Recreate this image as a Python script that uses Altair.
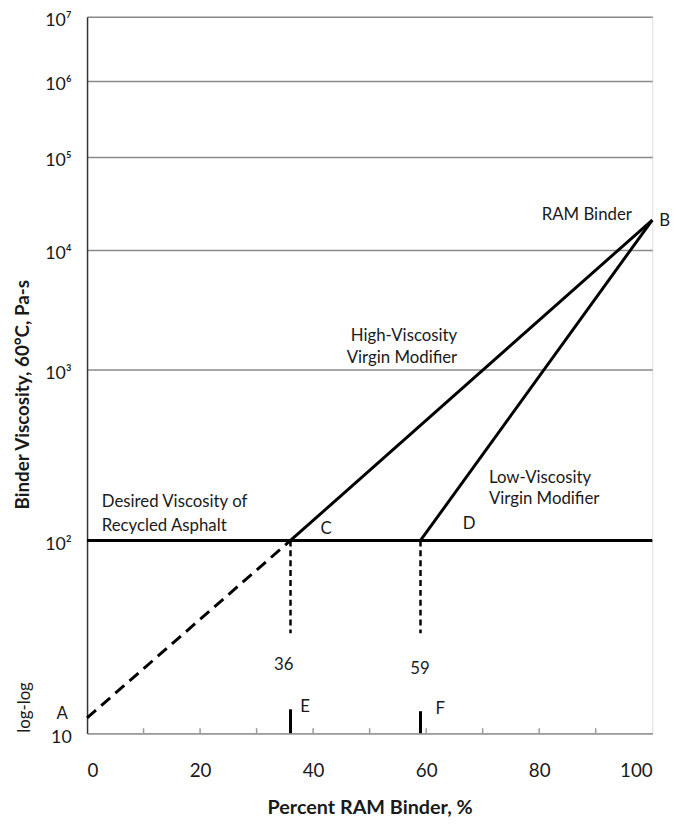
import altair as alt
import pandas as pd

FONT = "Lato"
INK = "#1a1a1a"

# ---- axis ticks / labels ----
x_label_values = [0, 20, 40, 60, 80, 100]
x_minor_ticks = [10, 20, 30, 40, 50, 60, 70, 80, 90]
y_tick_values = [10, 100, 1000, 10000, 100000, 1000000, 10000000]
y_tick_labels = ["10", "10²", "10³", "10⁴", "10⁵", "10⁶", "10⁷"]
# pixel positions of the decades on the (hand-drawn) log-log axis
y_decade_pixels = [725, 530, 357, 236, 142, 65, 0]

# ---- key points ----
pt_name = ["A", "C", "D", "B"]
pt_pct = [0, 36, 59, 100]
pt_visc = [12, 100, 100, 21000]

desired_visc = 100
blend_pct = [36, 59]
blend_drop_visc = [33, 33]
blend_mark_top = [13.3, 13.0]

pts = dict(zip(pt_name, zip(pt_pct, pt_visc)))

def seg(a, b, name):
    return [
        {"seg": name, "pct": pts[a][0], "visc": pts[a][1], "o": 0},
        {"seg": name, "pct": pts[b][0], "visc": pts[b][1], "o": 1},
    ]

dashed_df = pd.DataFrame(seg("A", "C", "extrap"))
solid_df = pd.DataFrame(seg("C", "B", "high") + seg("D", "B", "low") + [
    {"seg": "desired", "pct": x_label_values[0], "visc": desired_visc, "o": 0},
    {"seg": "desired", "pct": x_label_values[-1], "visc": desired_visc, "o": 1},
])
drop_df = pd.DataFrame({"pct": blend_pct, "top": [desired_visc] * 2, "bot": blend_drop_visc})
mark_df = pd.DataFrame({"pct": blend_pct, "bot": [y_tick_values[0]] * 2, "top": blend_mark_top})
minor_df = pd.DataFrame({"pct": x_minor_ticks})

# ---- annotations (data coordinates) ----
ann = pd.DataFrame([
    {"t": "Desired Viscosity of", "pct": 2.6, "visc": 168, "align": "left"},
    {"t": "Recycled Asphalt", "pct": 2.6, "visc": 122, "align": "left"},
    {"t": "High-Viscosity", "pct": 65.5, "visc": 1910, "align": "right"},
    {"t": "Virgin Modifier", "pct": 65.5, "visc": 1256, "align": "right"},
    {"t": "Low-Viscosity", "pct": 71.1, "visc": 231, "align": "left"},
    {"t": "Virgin Modifier", "pct": 71.1, "visc": 175, "align": "left"},
    {"t": "RAM Binder", "pct": 96.4, "visc": 23600, "align": "right"},
    {"t": "B", "pct": 102.2, "visc": 20400, "align": "center"},
    {"t": "C", "pct": 42.3, "visc": 117, "align": "center"},
    {"t": "D", "pct": 67.6, "visc": 125, "align": "center"},
    {"t": "36", "pct": 34.8, "visc": 22.6, "align": "center"},
    {"t": "59", "pct": 58.9, "visc": 21.5, "align": "center"},
    {"t": "E", "pct": 38.6, "visc": 13.7, "align": "center"},
    {"t": "F", "pct": 62.5, "visc": 13.4, "align": "center"},
    {"t": "A", "pct": -4.4, "visc": 12.5, "align": "center"},
])
loglog_df = pd.DataFrame([{"t": "log-log", "pct": -11.0, "visc": 13.6}])

# ---- scales / axes ----
label_expr = "".join(
    f"datum.value == {v} ? '{l}' : " for v, l in zip(y_tick_values, y_tick_labels)
) + "''"

xscale = alt.Scale(domain=[x_label_values[0], x_label_values[-1]], nice=False)
yscale = alt.Scale(type="log", domain=y_tick_values, range=y_decade_pixels, nice=False)

xaxis = alt.Axis(
    values=x_label_values, format="d", ticks=False, tickSize=0, grid=False,
    labelFontSize=19, labelPadding=29, labelFont=FONT, labelColor=INK,
    domainColor="#9a9a9a", domainWidth=1.5,
    title="Percent RAM Binder, %", titleFont=FONT, titleFontSize=20,
    titleFontWeight="bold", titleColor=INK, titleY=75, titleBaseline="middle",
)
yaxis = alt.Axis(
    values=y_tick_values, labelExpr=label_expr, ticks=False, tickSize=0,
    grid=True, gridColor="#8a8a8a", gridWidth=1.5,
    labelFontSize=18, labelPadding=16, labelFont=FONT, labelColor=INK,
    labelOffset=4,
    domainColor="#333333", domainWidth=1.5,
    title="Binder Viscosity, 60°C, Pa-s", titleFont=FONT, titleFontSize=19,
    titleFontWeight="bold", titleColor=INK, titleX=-65, titleY=382,
    titleBaseline="middle", titleAngle=270,
)

X = alt.X("pct:Q", scale=xscale, axis=xaxis)
Y = alt.Y("visc:Q", scale=yscale, axis=yaxis)

solid = alt.Chart(solid_df).mark_line(color="black", strokeWidth=3).encode(
    x=X, y=Y, detail="seg:N", order="o:Q"
)
dashed = alt.Chart(dashed_df).mark_line(color="black", strokeWidth=3, strokeDash=[12, 7]).encode(
    x="pct:Q", y="visc:Q", order="o:Q"
)
drops = alt.Chart(drop_df).mark_rule(color="black", strokeWidth=2.5, strokeDash=[6, 4]).encode(
    x="pct:Q", y="top:Q", y2="bot:Q"
)
marks = alt.Chart(mark_df).mark_rule(color="black", strokeWidth=3).encode(
    x="pct:Q", y="bot:Q", y2="top:Q"
)
minor = alt.Chart(minor_df).mark_rule(color="#9a9a9a", strokeWidth=1.5).encode(
    x="pct:Q", y=alt.value(725), y2=alt.value(720)
)

def text_layer(align):
    return alt.Chart(ann).transform_filter(
        alt.datum.align == align
    ).mark_text(
        font=FONT, fontSize=17, color=INK, baseline="middle", align=align
    ).encode(x="pct:Q", y="visc:Q", text="t:N")

loglog = alt.Chart(loglog_df).mark_text(
    font=FONT, fontSize=17, color=INK, angle=270, baseline="middle", align="center"
).encode(x="pct:Q", y="visc:Q", text="t:N")

chart = alt.layer(
    minor, solid, dashed, drops, marks,
    text_layer("left"), text_layer("center"), text_layer("right"), loglog
).properties(
    width=572, height=725,
    autosize=alt.AutoSizeParams(type="none"),
    padding={"left": 80, "top": 4, "right": 19, "bottom": 84},
).configure_view(stroke="#444444", strokeWidth=1.5).configure(background="white")

chart.save("out.html", embed_options={"renderer": "svg", "actions": False})
